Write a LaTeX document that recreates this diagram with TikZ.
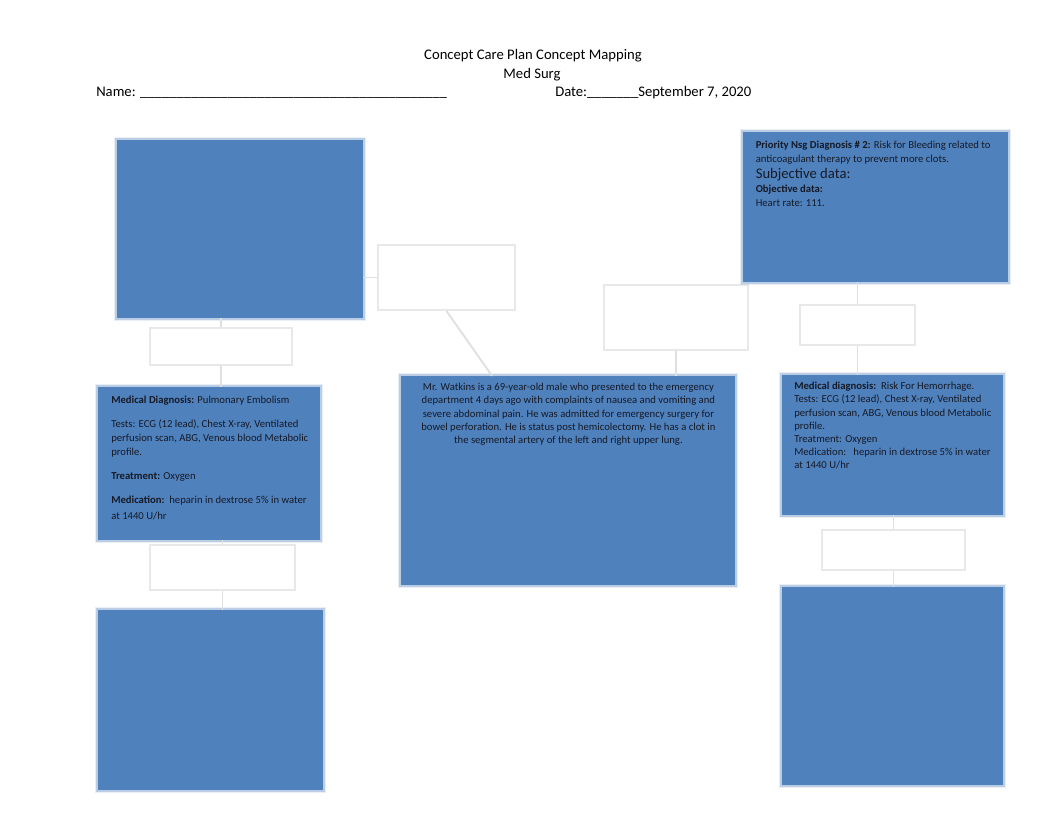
\documentclass[tikz,border=0pt]{standalone}
\usepackage{fontspec}
\setmainfont{Carlito}
\definecolor{boxblue}{RGB}{79,129,189}
\definecolor{txt}{RGB}{22,26,38}
\begin{document}
\begin{tikzpicture}[x=0.75pt,y=-0.75pt,
  bluebox/.style={fill=boxblue, draw=none, inner sep=0pt,
    preaction={draw=boxblue, line width=5pt, draw opacity=0.12},
    preaction={draw=boxblue, line width=2.5pt, draw opacity=0.3}},
  labelbox/.style={draw=black!9, line width=1.6pt, fill=white, inner sep=0pt},
  link/.style={draw=black!12, line width=1.4pt},
  body/.style={font=\fontsize{8}{9.9}\selectfont, text=txt, inner sep=0pt, align=left, anchor=north west},
  head/.style={font=\fontsize{11}{13}\selectfont, text=black, inner sep=0pt},
]
\useasboundingbox[fill=white] (0,0) rectangle (1062,822);

% header
\node[head] (title) at (533,55.5) {Concept Care Plan Concept Mapping};
\node[head] (sub) at (532,74.5) {Med Surg};
\node[head, anchor=west] (name) at (96,92.5) {Name: \_\_\_\_\_\_\_\_\_\_\_\_\_\_\_\_\_\_\_\_\_\_\_\_\_\_\_\_\_\_\_\_\_\_\_\_\_\_\_\_\_\_};
\node[head, anchor=west] (date) at (555,92.5) {Date:\_\_\_\_\_\_\_September 7, 2020};

% label boxes
\node[labelbox, minimum width=102.75pt, minimum height=48.75pt] (la) at (446.5,277.5) {};
\node[labelbox, minimum width=108pt, minimum height=48.75pt] (lb) at (676,317.5) {};
\node[labelbox, minimum width=86.25pt, minimum height=30pt] (lc) at (857.5,325) {};
\node[labelbox, minimum width=106.5pt, minimum height=27.75pt] (ld) at (221,346.5) {};
\node[labelbox, minimum width=108.75pt, minimum height=33.75pt] (le) at (222.5,567.5) {};
\node[labelbox, minimum width=107.25pt, minimum height=30pt] (lf) at (893.5,550) {};

% blue boxes
\node[bluebox, minimum width=184.5pt, minimum height=133.5pt] (tl) at (240,229) {};
\node[bluebox, minimum width=198.75pt, minimum height=112.5pt] (tr) at (875.5,207) {};
\node[bluebox, minimum width=166.5pt, minimum height=114.75pt] (ml) at (209,463.5) {};
\node[bluebox, minimum width=250.5pt, minimum height=156.75pt] (cc) at (568,480.5) {};
\node[bluebox, minimum width=165.75pt, minimum height=105pt] (mr) at (892.5,445) {};
\node[bluebox, minimum width=168.75pt, minimum height=135pt] (bl) at (210.5,700) {};
\node[bluebox, minimum width=165.75pt, minimum height=148.5pt] (br) at (892.5,686) {};

% connectors
\draw[link] (la.west -| tl.east) -- (la.west);
\draw[link] (la.south) -- ([xshift=-57pt]cc.north);
\draw[link] (lb.south) -- (lb.south |- cc.north);
\draw[link] (lc.north) -- (lc.north |- tr.south);
\draw[link] (lc.south) -- (lc.south |- mr.north);
\draw[link] (ld.north) -- (ld.north |- tl.south);
\draw[link] (ld.south) -- (ld.south |- ml.north);
\draw[link] (le.north) -- (le.north |- ml.south);
\draw[link] (le.south) -- (le.south |- bl.north);
\draw[link] (lf.north) -- (lf.north |- mr.south);
\draw[link] (lf.south) -- (lf.south |- br.north);

% texts
\node[body, font=\fontsize{8}{10.5}\selectfont] (trtext) at (755.5,140.5) {\textbf{Priority Nsg Diagnosis \# 2:} Risk for Bleeding related to\\
anticoagulant therapy to prevent more clots.\\[1.5pt]
{\fontsize{11}{11}\selectfont Subjective data:}\\[0.5pt]
\textbf{Objective data:}\\
Heart rate: 111.};

\node[body, font=\fontsize{8}{10.5}\selectfont] (mltext) at (111,396) {\textbf{Medical Diagnosis:} Pulmonary Embolism\\[7.5pt]
Tests: ECG (12 lead), Chest X-ray, Ventilated\\
perfusion scan, ABG, Venous blood Metabolic\\
profile.\\[7.5pt]
\textbf{Treatment:} Oxygen\\[7.5pt]
\textbf{Medication:}\ \ heparin in dextrose 5\% in water\\[1pt]
at 1440 U/hr};

\node[body, align=center, anchor=north] (cctext) at (568.4,383) {Mr. Watkins is a 69-year-old male who presented to the emergency\\
department 4 days ago with complaints of nausea and vomiting and\\
severe abdominal pain. He was admitted for emergency surgery for\\
bowel perforation. He is status post hemicolectomy. He has a clot in\\
the segmental artery of the left and right upper lung.};

\node[body] (mrtext) at (794,382) {\textbf{Medical diagnosis:}\ \ Risk For Hemorrhage.\\
Tests: ECG (12 lead), Chest X-ray, Ventilated\\
perfusion scan, ABG, Venous blood Metabolic\\
profile.\\
Treatment: Oxygen\\
Medication:\ \ \ heparin in dextrose 5\% in water\\
at 1440 U/hr};
\end{tikzpicture}
\end{document}
